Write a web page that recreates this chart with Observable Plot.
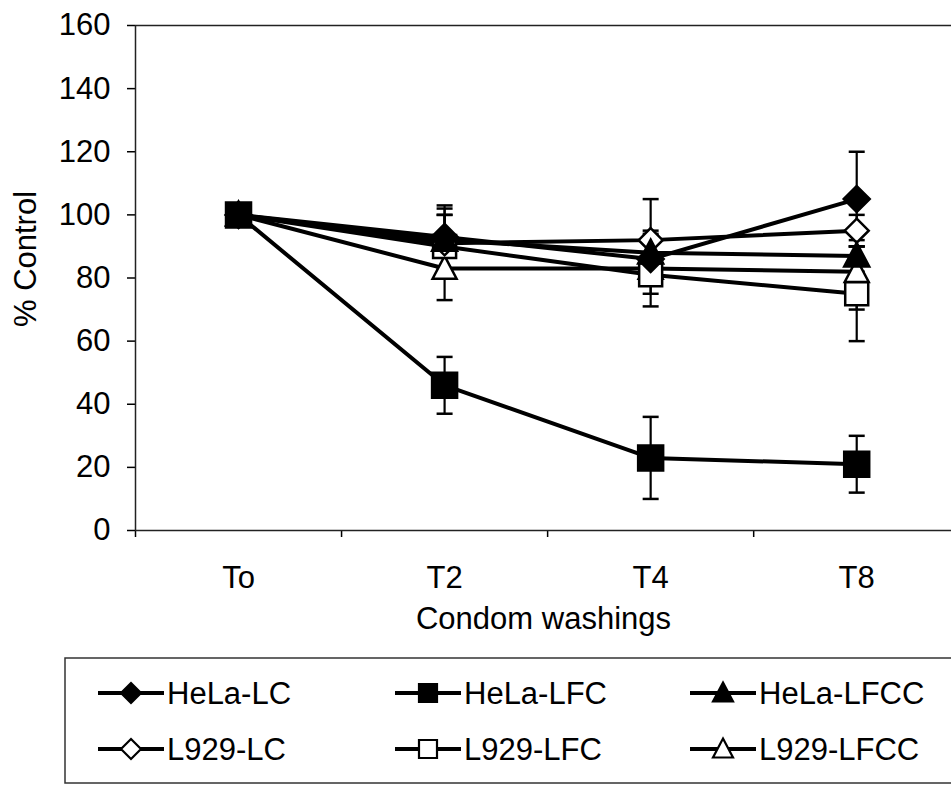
<!DOCTYPE html>
<html><head><meta charset="utf-8">
<script src="https://cdn.jsdelivr.net/npm/d3@7"></script>
<script src="https://cdn.jsdelivr.net/npm/@observablehq/plot@0.6"></script>
<style>
body{margin:0;background:#fff;font-family:"Liberation Sans",Arial,sans-serif;}
#chart svg,#legend svg{display:block}
</style></head><body><div id="chart"></div><div id="legend"></div>
<script>
const categories = ["To", "T2", "T4", "T8"];
const seriesNames = ["HeLa-LC", "HeLa-LFC", "HeLa-LFCC", "L929-LC", "L929-LFC", "L929-LFCC"];
const helaLC    = [100, 93, 86, 105];
const helaLFC   = [100, 46, 23, 21];
const helaLFCC  = [100, 92, 88, 87];
const l929LC    = [100, 91, 92, 95];
const l929LFC   = [100, 90, 81, 75];
const l929LFCC  = [100, 83, 83, 82];
const helaLCErr   = [0, 10, 8, 15];
const helaLFCErr  = [0, 9, 13, 9];
const helaLFCCErr = [0, 10, 7, 5];
const l929LCErr   = [0, 9, 13, 5];
const l929LFCErr  = [0, 10, 10, 15];
const l929LFCCErr = [0, 10, 8, 12];
const yTicks = [0, 20, 40, 60, 80, 100, 120, 140, 160];
const xTitle = "Condom washings";
const yTitle = "% Control";

const FONT = '"Liberation Sans", Arial, sans-serif';
const FS = 31;
const rad = size => Math.sqrt(size / Math.PI);
const sym = {
  diamond: {draw(c, s) { const r = rad(s); c.moveTo(0, -r); c.lineTo(r, 0); c.lineTo(0, r); c.lineTo(-r, 0); c.closePath(); }},
  square: {draw(c, s) { const r = rad(s); c.moveTo(-r, -r); c.lineTo(r, -r); c.lineTo(r, r); c.lineTo(-r, r); c.closePath(); }},
  triangle: {draw(c, s) { const r = rad(s); c.moveTo(0, -r * 1.05); c.lineTo(r, r * 0.85); c.lineTo(-r, r * 0.85); c.closePath(); }},
  cap: {draw(c, s) { const r = rad(s); c.moveTo(-r, 0); c.lineTo(r, 0); }}
};

const series = [
  {name: seriesNames[0], values: helaLC, err: helaLCErr, symbol: sym.diamond, filled: true, r: 13},
  {name: seriesNames[1], values: helaLFC, err: helaLFCErr, symbol: sym.square, filled: true, r: 12.5},
  {name: seriesNames[2], values: helaLFCC, err: helaLFCCErr, symbol: sym.triangle, filled: true, r: 12.5},
  {name: seriesNames[3], values: l929LC, err: l929LCErr, symbol: sym.diamond, filled: false, r: 12},
  {name: seriesNames[4], values: l929LFC, err: l929LFCErr, symbol: sym.square, filled: false, r: 11.5},
  {name: seriesNames[5], values: l929LFCC, err: l929LFCCErr, symbol: sym.triangle, filled: false, r: 12}
];

const lineMarks = [], dotMarks = [];
for (const s of series) {
  const pts = s.values.map((v, i) => ({i, v, e: s.err[i]}));
  const ep = pts.filter(d => d.e > 0);
  lineMarks.push(
    Plot.ruleX(ep, {x: "i", y1: d => d.v - d.e, y2: d => d.v + d.e, stroke: "#000", strokeWidth: 2.2}),
    Plot.dot(ep, {x: "i", y: d => d.v + d.e, symbol: sym.cap, r: 8, stroke: "#000", strokeWidth: 2.5, fill: "none"}),
    Plot.dot(ep, {x: "i", y: d => d.v - d.e, symbol: sym.cap, r: 8, stroke: "#000", strokeWidth: 2.5, fill: "none"}),
    Plot.line(pts, {x: "i", y: "v", stroke: "#000", strokeWidth: 4})
  );
  dotMarks.unshift(
    Plot.dot(pts, {x: "i", y: "v", symbol: s.symbol, r: s.r, fill: s.filled ? "#000" : "#fff", stroke: "#000", strokeWidth: 2.5})
  );
}

const chart = Plot.plot({
  width: 951,
  height: 655,
  marginLeft: 135,
  marginRight: 0,
  marginTop: 25,
  marginBottom: 125,
  style: {fontFamily: FONT, fontSize: FS + "px", color: "#000", background: "#fff"},
  x: {type: "linear", domain: [-0.5, 3.46]},
  y: {domain: [0, 160]},
  marks: [
    Plot.ruleY([160], {stroke: "#222", strokeWidth: 1.5}),
    Plot.axisY({ticks: yTicks, tickSize: 8, tickPadding: 17, fontSize: FS, label: null, tickFormat: d => String(d), strokeWidth: 1.5}),
    Plot.axisX({ticks: categories.map((c, i) => i), tickFormat: i => categories[i], tickSize: 0, tickPadding: 35, fontSize: FS, label: null}),
    Plot.axisX({ticks: categories.map((c, i) => i - 0.5), tickFormat: () => "", tickSize: 7, label: null, strokeWidth: 1.5}),
    Plot.ruleX([-0.5], {stroke: "#222", strokeWidth: 1.5}),
    Plot.ruleY([0], {stroke: "#222", strokeWidth: 1.5}),
    ...lineMarks,
    ...dotMarks,
    Plot.text([xTitle], {text: d => d, frameAnchor: "bottom", dy: 98, fontSize: FS, fill: "#000"}),
    Plot.text([yTitle], {text: d => d, frameAnchor: "left", textAnchor: "middle", rotate: -90, dx: -109, dy: -19, fontSize: FS, fill: "#000"})
  ]
});
document.getElementById("chart").appendChild(chart);

// Legend below the chart
const lg = d3.select("#legend").append("svg").attr("width", 951).attr("height", 130)
  .style("font-family", FONT);
lg.append("rect").attr("x", 65).attr("y", 3).attr("width", 900).attr("height", 125)
  .attr("fill", "none").attr("stroke", "#333").attr("stroke-width", 1.5);
const cols = [{x1: 98, x2: 164, tx: 167}, {x1: 395, x2: 461, tx: 464}, {x1: 690, x2: 756, tx: 759}];
const rows = [38, 94];
const legendR = [10, 9, 10, 10, 9, 10];
series.forEach((s, k) => {
  const col = cols[k % 3], y = rows[Math.floor(k / 3)];
  const g = lg.append("g");
  g.append("line").attr("x1", col.x1).attr("x2", col.x2).attr("y1", y).attr("y2", y)
    .attr("stroke", "#000").attr("stroke-width", 4);
  const r = legendR[k];
  g.append("path").attr("transform", `translate(${(col.x1 + col.x2) / 2},${y})`)
    .attr("d", d3.symbol(s.symbol, r * r * Math.PI)())
    .attr("fill", s.filled ? "#000" : "#fff").attr("stroke", "#000").attr("stroke-width", 2.2);
  g.append("text").attr("x", col.tx).attr("y", y).attr("dy", "0.36em")
    .attr("font-size", FS).attr("fill", "#000").text(s.name);
});
</script>
</body></html>
